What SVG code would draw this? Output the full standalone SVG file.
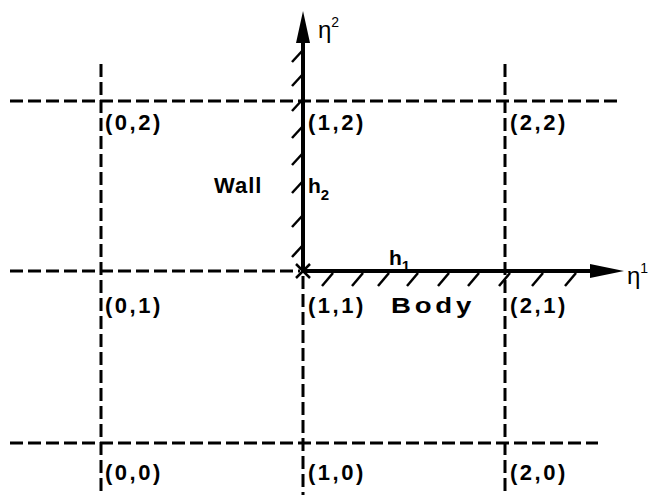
<svg xmlns="http://www.w3.org/2000/svg" width="648" height="495" viewBox="0 0 648 495">
<defs>
<style>
.grid{stroke:#000;stroke-width:3;stroke-dasharray:13 5;fill:none}
.axis{stroke:#000;stroke-width:4;fill:none}
.hatch{stroke:#000;stroke-width:2.5;fill:none}
text{font-family:"Liberation Sans","DejaVu Sans",sans-serif;font-size:22px;font-weight:bold;fill:#000;letter-spacing:2.5px}
text.wall{letter-spacing:1px}
text.body{letter-spacing:3px}
text.h{font-size:21px;letter-spacing:0}
text.eta{font-size:24px;font-weight:normal;letter-spacing:0}
tspan.sub{font-size:15px}
tspan.sup{font-size:14px}
</style>
</defs>
<rect width="648" height="495" fill="#fff"/>
<g id="connectors">
<line class="grid" x1="10" y1="101" x2="620" y2="101"/>
<line class="grid" x1="10" y1="271" x2="300" y2="271"/>
<line class="grid" x1="10" y1="443" x2="598" y2="443"/>
<line class="grid" x1="101" y1="64" x2="101" y2="495"/>
<line class="grid" x1="303" y1="276" x2="303" y2="495"/>
<line class="grid" x1="505" y1="64" x2="505" y2="495"/>
<line class="axis" x1="303" y1="273" x2="303" y2="42"/>
<path d="M296,43 L303,11 L310,43 Z" fill="#000"/>
<line class="axis" x1="301" y1="271" x2="592" y2="271"/>
<path d="M590,264 L624,271 L590,278 Z" fill="#000"/>
<g class="hatch">
<line x1="292" y1="62" x2="303" y2="50"/>
<line x1="292" y1="86" x2="303" y2="74"/>
<line x1="292" y1="111" x2="303" y2="99"/>
<line x1="292" y1="138" x2="303" y2="126"/>
<line x1="292" y1="165" x2="303" y2="153"/>
<line x1="292" y1="193" x2="303" y2="181"/>
<line x1="292" y1="227" x2="303" y2="215"/>
<line x1="292" y1="257" x2="303" y2="245"/>
<line x1="322" y1="286" x2="333" y2="273"/>
<line x1="352" y1="286" x2="363" y2="273"/>
<line x1="378" y1="286" x2="389" y2="273"/>
<line x1="407" y1="286" x2="418" y2="273"/>
<line x1="438" y1="286" x2="449" y2="273"/>
<line x1="468" y1="286" x2="479" y2="273"/>
<line x1="499" y1="286" x2="510" y2="273"/>
<line x1="532" y1="286" x2="543" y2="273"/>
<line x1="565" y1="286" x2="576" y2="273"/>
<line x1="296" y1="264" x2="310" y2="278"/>
<line x1="296" y1="278" x2="310" y2="264"/>
</g>
</g>
<g id="n02"><text x="105" y="130">(0,2)</text></g>
<g id="n12"><text x="308" y="130">(1,2)</text></g>
<g id="n22"><text x="510" y="130">(2,2)</text></g>
<g id="n01"><text x="105" y="313">(0,1)</text></g>
<g id="n11"><text x="308" y="313">(1,1)</text></g>
<g id="n21"><text x="510" y="313">(2,1)</text></g>
<g id="n00"><text x="105" y="480">(0,0)</text></g>
<g id="n10"><text x="308" y="480">(1,0)</text></g>
<g id="n20"><text x="510" y="480">(2,0)</text></g>
<g id="wall"><text class="wall" x="214" y="193">Wall</text></g>
<g id="body"><text class="body" x="391" y="313" textLength="84" lengthAdjust="spacingAndGlyphs">Body</text></g>
<g id="h2"><text class="h" x="308" y="193">h<tspan class="sub" dy="7">2</tspan></text></g>
<g id="h1"><text class="h" x="389" y="265">h<tspan class="sub" dy="6">1</tspan></text></g>
<g id="eta2"><text class="eta" x="318" y="38">η<tspan class="sup" dy="-11">2</tspan></text></g>
<g id="eta1"><text class="eta" x="627" y="284">η<tspan class="sup" dy="-11">1</tspan></text></g>
</svg>
